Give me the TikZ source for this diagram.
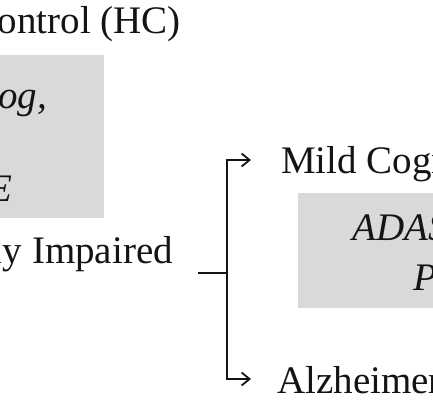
\documentclass[tikz,border=0pt]{standalone}
\usepackage{fontspec}
\setmainfont{Liberation Serif}
\usetikzlibrary{arrows.meta}
\definecolor{boxgray}{RGB}{217,217,217}
\definecolor{ink}{RGB}{20,20,20}
\begin{document}
\begin{tikzpicture}[x=1bp,y=-1bp,
  lbl/.style={inner sep=0pt, font=\fontsize{39bp}{47bp}\selectfont, text=ink},
  itl/.style={inner sep=0pt, font=\fontsize{39bp}{47bp}\selectfont\itshape, text=ink},
  grbox/.style={fill=boxgray, draw=none, inner sep=0pt},
  conn/.style={draw=ink, line width=1.8bp},
  arr/.style={conn, -{Straight Barb[length=8bp,width=13bp]}}]
\useasboundingbox (0,0) rectangle (433,407);
\begin{scope}
\clip (0,0) rectangle (433,407);
% grey boxes
\node[grbox, anchor=north east, minimum width=224bp, minimum height=163bp] (box1) at (104,55) {};
\node[grbox, anchor=north west, minimum width=260bp, minimum height=115bp] (box2) at (298,193) {};
% texts
\node[lbl, anchor=base east] (hc) at (181,33) {Healthy Control (HC)};
\node[itl, anchor=base east] (m1) at (47,108) {ADAS-Cog,};
\node[itl, anchor=base east] (m2) at (13,201) {MMSE};
\node[lbl, anchor=base east] (ci) at (173,263) {Cognitively Impaired};
\node[lbl, anchor=base west] (mci) at (281,173) {Mild Cognitive Impairment (MCI)};
\node[itl, anchor=base west] (m3) at (352,240) {ADAS-Cog,};
\node[itl, anchor=base west] (m4) at (413,290) {P};
\node[lbl, anchor=base west] (ad) at (277,393) {Alzheimer's Disease (AD)};
% connectors
\coordinate (stem) at (198,273);
\coordinate (fork) at (227,273);
\coordinate (t1) at (251,160);
\coordinate (t2) at (251,379);
\draw[conn] (stem) -- (fork);
\draw[arr] (fork) |- (t1);
\draw[arr] (fork) |- (t2);
\end{scope}
\end{tikzpicture}
\end{document}
